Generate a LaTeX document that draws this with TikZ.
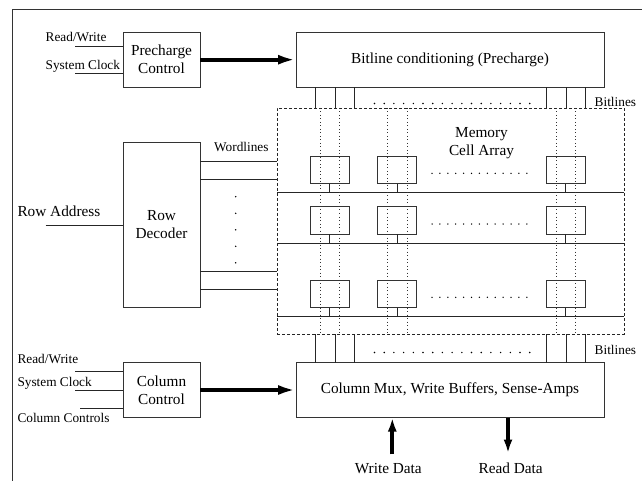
\documentclass[tikz,border=0pt]{standalone}
\usepackage{fontspec}
\setmainfont{Liberation Serif}
\usetikzlibrary{arrows.meta,calc}
\newcommand{\bigfnt}{\fontsize{15.3}{18}\selectfont}
\newcommand{\smallfnt}{\fontsize{13.3}{15}\selectfont}
\begin{document}
\begin{tikzpicture}[x=1pt,y=-1pt,
  box/.style={draw=black!80,line width=1pt,inner sep=0pt,outer sep=0pt,align=center,font=\bigfnt},
  cellbox/.style={draw=black!80,line width=1pt,inner sep=0pt,outer sep=0pt,minimum width=39pt,minimum height=27.5pt},
  wire/.style={draw=black!85,line width=0.9pt},
  bigarrow/.style={draw=black,line width=4pt,-{Latex[length=18pt,width=10pt]}},
  vbigarrow/.style={draw=black,line width=4pt,-{Latex[length=14pt,width=9pt]}},
  arraybox/.style={draw=black!85,line width=0.9pt,dash pattern=on 3pt off 2pt},
  bitdot/.style={draw=black!80,line width=0.7pt,dash pattern=on 0.9pt off 2.6pt},
  lbl/.style={inner sep=0pt,font=\smallfnt},
  biglbl/.style={inner sep=0pt,font=\bigfnt},
  dotfill/.style={fill=black,draw=none}
]
\useasboundingbox (0,0) rectangle (642,481);

% frame
\coordinate (ftl) at (12,10);
\coordinate (ftr) at (642,10);
\coordinate (fbl) at (12,481);
\draw[draw=black!80,line width=1pt] (ftr) -- (ftl) -- (fbl);

% blocks
\node[box,minimum width=77pt,minimum height=55pt] (pre) at (161.5,59.7) {Precharge\\Control};
\node[box,minimum width=308pt,minimum height=55pt] (bit) at (450,59.7) {Bitline conditioning (Precharge)};
\node[box,minimum width=77pt,minimum height=164.6pt] (dec) at (161.5,225) {Row\\Decoder};
\node[box,minimum width=77pt,minimum height=54.6pt] (colc) at (161.5,390) {Column\\Control};
\node[box,minimum width=308pt,minimum height=55pt] (mux) at (450,390) {Column Mux, Write Buffers, Sense-Amps};
\node[arraybox,inner sep=0pt,outer sep=0pt,minimum width=347pt,minimum height=226pt] (arr) at (450.5,221) {};
\node[biglbl,align=center] (arrlbl) at (481.5,143.5) {Memory\\Cell Array};

% precharge inputs
\node[lbl,anchor=base west] (rw1) at (45.5,42) {Read/Write};
\node[lbl,anchor=base west] (sc1) at (45.5,70) {System Clock};
\coordinate (rw1s) at (75,46);
\coordinate (sc1s) at (75,73.3);
\draw[wire] (rw1s) -- (pre.west |- rw1s);
\draw[wire] (sc1s) -- (pre.west |- sc1s);
\draw[bigarrow] (pre.east) -- (bit.west);

% row address
\node[biglbl,anchor=base west] (ra) at (17.3,216) {Row Address};
\coordinate (ras) at (45.7,225.3);
\draw[wire] (ras) -- (dec.west |- ras);

% wordlines
\node[lbl,anchor=base west] (wl) at (214,152) {Wordlines};
\foreach \y/\n in {161.3/a,179.3/b,271/c,289.3/d}{
  \draw[wire] (dec.east |- 0,\y) -- (arr.west |- 0,\y);
}
\foreach \y in {196.7,213.3,229.8,246.3,262.8}{
  \fill[dotfill] (235.7,\y) circle (0.8pt);
}

% horizontal lines in array
\foreach \y in {192.7,243.3,316.7}{
  \draw[wire] (arr.west |- 0,\y) -- (arr.east |- 0,\y);
}

% bitlines top and bottom
\foreach \x in {315.7,335,354.3,546.7,566,585.3}{
  \draw[wire] (bit.south -| \x,0) -- (arr.north -| \x,0);
  \draw[wire] (arr.south -| \x,0) -- (mux.north -| \x,0);
}
\foreach \i in {0,...,16}{
  \fill[dotfill] ({374.5+\i*9.7},103.5) circle (0.8pt);
  \fill[dotfill] ({374.5+\i*9.7},352.5) circle (0.8pt);
}
\node[lbl,anchor=base west] (bl1) at (594.5,107) {Bitlines};
\node[lbl,anchor=base west] (bl2) at (594.5,354) {Bitlines};

% dotted bitlines in array
\foreach \x in {320.3,339.7,387.7,407,556,575.7}{
  \draw[bitdot] (arr.north -| \x,0) -- (arr.south -| \x,0);
}

% cells
\foreach \r/\y/\ly in {1/170/192.7,2/220.7/243.3,3/294/316.7}{
  \foreach \c/\x in {1/329.8,2/397.3,3/565.8}{
    \node[cellbox] (c\r\c) at (\x,\y) {};
    \draw[wire] (c\r\c.south) -- (c\r\c.south |- 0,\ly);
  }
  \foreach \i in {0,...,12}{
    \fill[dotfill] ({432+\i*7.9},\y+3.3) circle (0.75pt);
  }
}

% column control inputs
\node[lbl,anchor=base west] (rw2) at (17.3,363) {Read/Write};
\node[lbl,anchor=base west] (sc2) at (17.3,386) {System Clock};
\node[lbl,anchor=base west] (cc2) at (17.3,422) {Column Controls};
\coordinate (rw2s) at (75,371.7);
\coordinate (sc2s) at (75,390);
\coordinate (cc2s) at (80,408.3);
\draw[wire] (rw2s) -- (colc.west |- rw2s);
\draw[wire] (sc2s) -- (colc.west |- sc2s);
\draw[wire] (cc2s) -- (colc.west |- cc2s);
\draw[bigarrow] (colc.east) -- (mux.west);

% data
\node[biglbl,anchor=base] (wd) at (388.3,473) {Write Data};
\node[biglbl,anchor=base] (rd) at (510.7,473) {Read Data};
\coordinate (wds) at (392.3,454.3);
\coordinate (rde) at (508,453.5);
\draw[vbigarrow] (wds) -- (mux.south -| wds);
\draw[vbigarrow] (mux.south -| rde) -- (rde);
\end{tikzpicture}
\end{document}
